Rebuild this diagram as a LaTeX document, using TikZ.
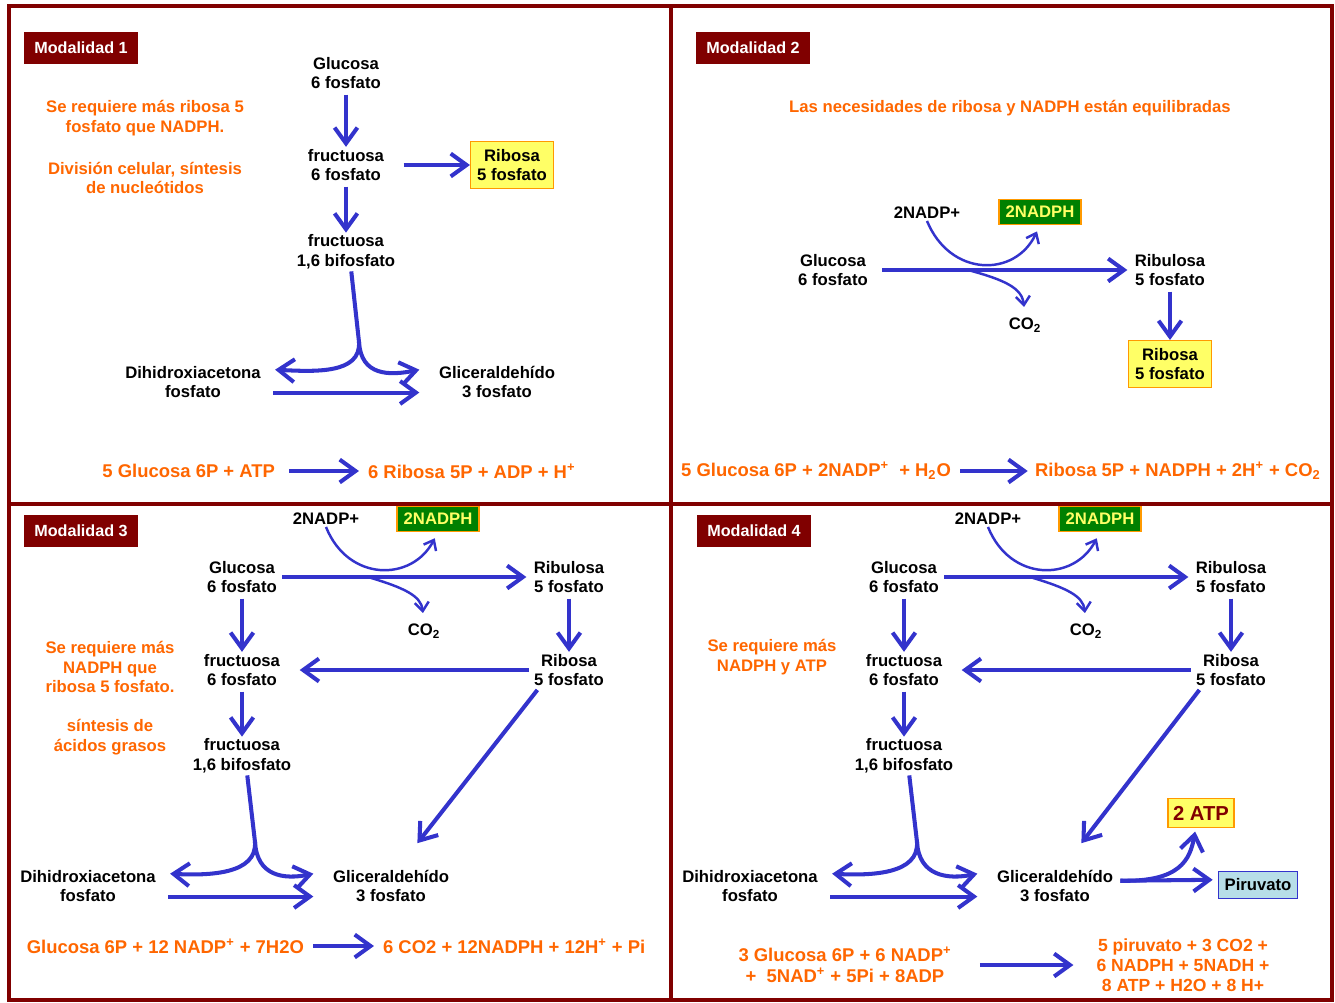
\documentclass[tikz,border=0pt]{standalone}
\usepackage{fontspec}
\setmainfont{Liberation Sans}
\usetikzlibrary{arrows.meta}
\definecolor{frame}{RGB}{128,0,0}
\definecolor{orangeT}{RGB}{255,102,0}
\definecolor{arrblue}{RGB}{51,51,204}
\definecolor{yelbox}{RGB}{255,255,102}
\definecolor{boxline}{RGB}{255,153,0}
\definecolor{greenbox}{RGB}{0,128,0}
\definecolor{yeltext}{RGB}{255,255,102}
\definecolor{pirbox}{RGB}{183,222,232}
\tikzset{
  met/.style={font=\bfseries\fontsize{9.5}{11.3}\selectfont,align=center,inner sep=1pt},
  note/.style={met,text=orangeT},
  eqn/.style={font=\bfseries\fontsize{10.5}{12}\selectfont,text=orangeT,align=center,inner sep=1pt},
  modal/.style={fill=frame,text=white,font=\bfseries\fontsize{9.2}{11}\selectfont,minimum width=2.28cm,minimum height=0.64cm,inner sep=0pt},
  ribbox/.style={met,draw=boxline,fill=yelbox,line width=0.6pt,minimum width=1.66cm,minimum height=0.94cm},
  nadph/.style={met,draw=boxline,fill=greenbox,text=yeltext,line width=0.6pt,minimum width=1.64cm,minimum height=0.5cm},
  flow/.style={draw=arrblue,line width=2.3pt,-{Straight Barb[length=9pt,width=13pt]}},
  thin/.style={draw=arrblue,line width=1.4pt,-{Straight Barb[length=5pt,width=8pt]}}
}
\begin{document}
\begin{tikzpicture}[x=0.02cm,y=-0.02cm]
\useasboundingbox (0,0) rectangle (1335,1002);
% frame
\draw[frame,line width=2.2pt] (9,6) rectangle (1332,1000);
\draw[frame,line width=2.2pt] (671,6) -- (671,1000);
\draw[frame,line width=2.2pt] (9,504) -- (1332,504);
\node[modal] (m1) at (81,48) {Modalidad 1};
\node[modal] (m2) at (753,48) {Modalidad 2};
\node[modal] (m3) at (81,531) {Modalidad 3};
\node[modal] (m4) at (754,531) {Modalidad 4};

% Modalidad 1
\node[met] (g1) at (346,73) {Glucosa\\6 fosfato};
\node[met] (f1) at (346,165) {fructuosa\\6 fosfato};
\node[met] (fb1) at (346,252) {fructuosa\\1,6 bifosfato};
\node[ribbox] (r1) at (512,165) {Ribosa\\5 fosfato};
\node[met] (d1) at (193,382) {Dihidroxiacetona\\fosfato};
\node[met] (ga1) at (497,382) {Gliceraldehído\\3 fosfato};
\node[note] (n1a) at (145,118) {Se requiere más ribosa 5\\fosfato que NADPH.};
\node[note] (n1b) at (145,178) {División celular, síntesis\\de nucleótidos};
\draw[flow,shorten <=2pt] (g1) -- (f1);
\draw[flow,shorten <=2pt] (f1) -- (fb1);
\draw[flow,shorten <=10pt] (f1) -- (r1);
\coordinate (k1) at (359,342);
\draw[flow] ([xshift=3pt]fb1.south) -- (k1) .. controls +(2,32) and +(40,2) .. ([xshift=7pt,yshift=7pt]d1.east);
\draw[flow] (k1) .. controls +(2,34) and +(-30,6) .. ([xshift=-10pt,yshift=7pt]ga1.west);
\draw[flow,shorten <=6pt,shorten >=10pt] ([yshift=-6pt]d1.east) -- ([yshift=-6pt]ga1.west);
\node[eqn,anchor=east] (e1l) at (277,471) {5 Glucosa 6P + ATP};
\node[eqn,anchor=west] (e1r) at (366,471) {6 Ribosa 5P + ADP + H\textsuperscript{+}};
\draw[flow,shorten <=7pt,shorten >=4pt] (e1l) -- (e1r);

% Modalidad 2
\node[note] (n2) at (1010,108) {Las necesidades de ribosa y NADPH están equilibradas};
\node[met] (np2) at (927,213) {2NADP+};
\node[nadph] (nh2) at (1040,212) {2NADPH};
\node[met] (g2) at (833,270) {Glucosa\\6 fosfato};
\node[met] (rb2) at (1170,270) {Ribulosa\\5 fosfato};
\node[met] (co2) at (1025,325) {CO\textsubscript{2}};
\node[ribbox] (r2) at (1170,364) {Ribosa\\5 fosfato};
\draw[flow,shorten <=7pt,shorten >=3pt] (g2) -- (rb2);
\draw[thin,shorten >=4pt] (np2.south) .. controls (950,277) and (1015,278) .. (nh2.south);
\coordinate (b2) at (968,270);
\draw[thin,shorten >=5pt] (b2) .. controls (1005,280) and (1022,288) .. (co2.north);
\draw[flow,shorten <=2pt] (rb2) -- (r2);
\node[eqn,anchor=east] (e2l) at (953,471) {5 Glucosa 6P + 2NADP\textsuperscript{+}\ \ + H\textsubscript{2}O};
\node[eqn,anchor=west] (e2r) at (1033,471) {Ribosa 5P + NADPH + 2H\textsuperscript{+} + CO\textsubscript{2}};
\draw[flow,shorten <=4pt,shorten >=3pt] (e2l) -- (e2r);

% Modalidad 3
\node[met] (np3) at (326,519) {2NADP+};
\node[nadph] (nh3) at (438,519) {2NADPH};
\node[met] (g3) at (242,577) {Glucosa\\6 fosfato};
\node[met] (rb3) at (569,577) {Ribulosa\\5 fosfato};
\node[met] (co3) at (424,631) {CO\textsubscript{2}};
\node[met] (f3) at (242,670) {fructuosa\\6 fosfato};
\node[met] (fb3) at (242,756) {fructuosa\\1,6 bifosfato};
\node[met] (r3) at (569,670) {Ribosa\\5 fosfato};
\node[met] (d3) at (88,886) {Dihidroxiacetona\\fosfato};
\node[met] (ga3) at (391,886) {Gliceraldehído\\3 fosfato};
\node[note] (n3a) at (110,667) {Se requiere más\\NADPH que\\ribosa 5 fosfato.};
\node[note] (n3b) at (110,737) {síntesis de\\ácidos grasos};
\draw[flow,shorten <=2pt,shorten >=3pt] (g3) -- (rb3);
\draw[thin,shorten >=4pt] (np3.south) .. controls (348,582) and (412,582) .. (nh3.south);
\coordinate (b3) at (368,577);
\draw[thin,shorten >=5pt] (b3) .. controls (405,588) and (421,596) .. (co3.north);
\draw[flow,shorten <=2pt] (g3) -- (f3);
\draw[flow,shorten <=2pt] (f3) -- (fb3);
\draw[flow,shorten <=2pt] (rb3) -- (r3);
\draw[flow,shorten <=2pt,shorten >=10pt] (r3) -- (f3);
\draw[flow] ([xshift=3pt,yshift=-1pt]r3.south west) -- ([xshift=15pt,yshift=14pt]ga3.north);
\coordinate (k3) at (255,842);
\draw[flow] ([xshift=3pt]fb3.south) -- (k3) .. controls +(2,32) and +(40,2) .. ([xshift=7pt,yshift=7pt]d3.east);
\draw[flow] (k3) .. controls +(2,34) and +(-30,6) .. ([xshift=-10pt,yshift=7pt]ga3.west);
\draw[flow,shorten <=6pt,shorten >=10pt] ([yshift=-6pt]d3.east) -- ([yshift=-6pt]ga3.west);
\node[eqn,anchor=east] (e3l) at (306,946) {Glucosa 6P + 12 NADP\textsuperscript{+} + 7H2O};
\node[eqn,anchor=west] (e3r) at (381,946) {6 CO2 + 12NADPH + 12H\textsuperscript{+} + Pi};
\draw[flow,shorten <=4pt,shorten >=4pt] (e3l) -- (e3r);

% Modalidad 4
\node[met] (np4) at (988,519) {2NADP+};
\node[nadph] (nh4) at (1100,519) {2NADPH};
\node[met] (g4) at (904,577) {Glucosa\\6 fosfato};
\node[met] (rb4) at (1231,577) {Ribulosa\\5 fosfato};
\node[met] (co4) at (1086,631) {CO\textsubscript{2}};
\node[met] (f4) at (904,670) {fructuosa\\6 fosfato};
\node[met] (fb4) at (904,756) {fructuosa\\1,6 bifosfato};
\node[met] (r4) at (1231,670) {Ribosa\\5 fosfato};
\node[met] (d4) at (750,886) {Dihidroxiacetona\\fosfato};
\node[met] (ga4) at (1055,886) {Gliceraldehído\\3 fosfato};
\node[ribbox,text=frame,font=\bfseries\fontsize{11.5}{13}\selectfont,minimum width=1.32cm,minimum height=0.58cm] (atp) at (1201,813) {2 ATP};
\node[met,draw=arrblue,fill=pirbox,line width=0.6pt,minimum width=1.58cm,minimum height=0.54cm] (pir) at (1258,885) {Piruvato};
\node[note] (n4) at (772,657) {Se requiere más\\NADPH y ATP};
\draw[flow,shorten <=2pt,shorten >=3pt] (g4) -- (rb4);
\draw[thin,shorten >=4pt] (np4.south) .. controls (1010,582) and (1074,582) .. (nh4.south);
\coordinate (b4) at (1030,577);
\draw[thin,shorten >=5pt] (b4) .. controls (1067,588) and (1083,596) .. (co4.north);
\draw[flow,shorten <=2pt] (g4) -- (f4);
\draw[flow,shorten <=2pt] (f4) -- (fb4);
\draw[flow,shorten <=2pt] (rb4) -- (r4);
\draw[flow,shorten <=2pt,shorten >=10pt] (r4) -- (f4);
\draw[flow] ([xshift=3pt,yshift=-1pt]r4.south west) -- ([xshift=15pt,yshift=14pt]ga4.north);
\coordinate (k4) at (917,842);
\draw[flow] ([xshift=3pt]fb4.south) -- (k4) .. controls +(2,32) and +(40,2) .. ([xshift=7pt,yshift=7pt]d4.east);
\draw[flow] (k4) .. controls +(2,34) and +(-30,6) .. ([xshift=-10pt,yshift=7pt]ga4.west);
\draw[flow,shorten <=6pt,shorten >=10pt] ([yshift=-6pt]d4.east) -- ([yshift=-6pt]ga4.west);
\draw[flow,shorten >=3pt] ([xshift=3pt,yshift=3pt]ga4.east) -- ([yshift=3pt]pir.west);
\draw[flow,shorten >=2pt] ([xshift=3pt,yshift=3pt]ga4.east) .. controls (1180,882) and (1190,860) .. ([xshift=-3pt]atp.south);
\node[eqn] (e4l) at (845,965) {3 Glucosa 6P + 6 NADP\textsuperscript{+}\\+\ \ 5NAD\textsuperscript{+} + 5Pi + 8ADP};
\node[eqn,font=\bfseries\fontsize{10}{11.4}\selectfont] (e4r) at (1183,965) {5 piruvato + 3 CO2 +\\6 NADPH + 5NADH +\\8 ATP + H2O + 8 H+};
\draw[flow,shorten <=15pt,shorten >=12pt] (e4l) -- (e4r);
\end{tikzpicture}
\end{document}
